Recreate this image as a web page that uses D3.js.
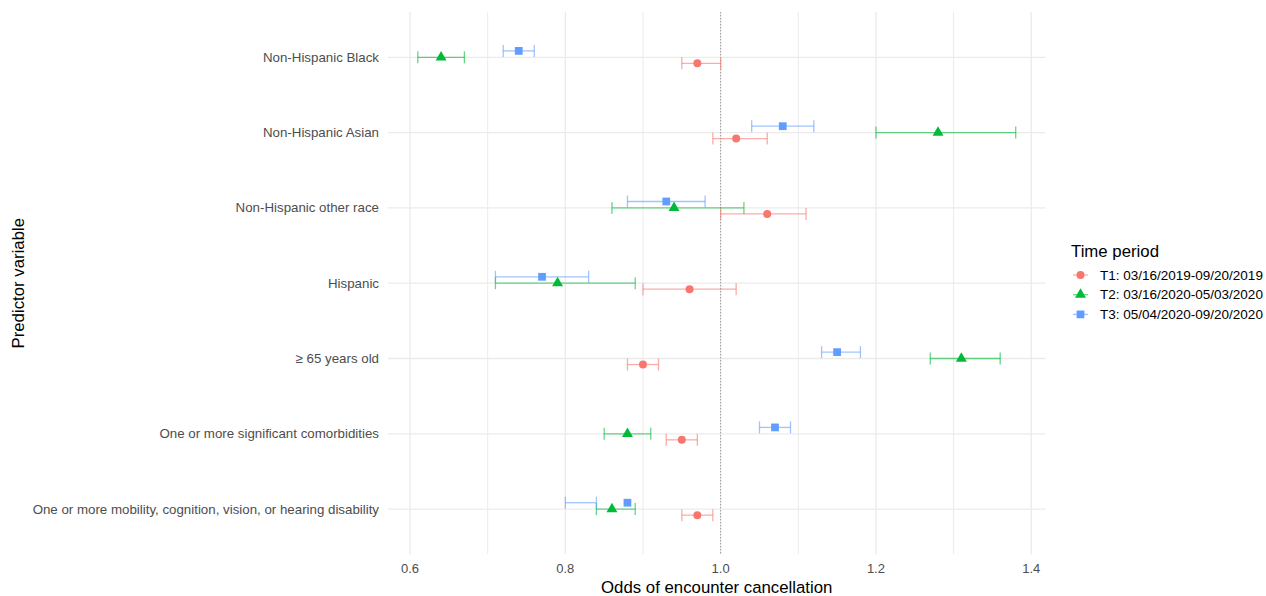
<!DOCTYPE html>
<html><head><meta charset="utf-8">
<script src="https://cdn.jsdelivr.net/npm/d3@7"></script>
<style>body{margin:0;background:#fff;font-family:"Liberation Sans",Arial,sans-serif;}</style>
</head><body><svg id="c" width="1266" height="596"></svg>
<script>
const categories = ["Non-Hispanic Black","Non-Hispanic Asian","Non-Hispanic other race","Hispanic","\u2265 65 years old","One or more significant comorbidities","One or more mobility, cognition, vision, or hearing disability"];
const periods = ["T1: 03/16/2019-09/20/2019","T2: 03/16/2020-05/03/2020","T3: 05/04/2020-09/20/2020"];
const t1Est = [0.97,1.02,1.06,0.96,0.90,0.95,0.97];
const t1Lo  = [0.95,0.99,1.00,0.90,0.88,0.93,0.95];
const t1Hi  = [1.00,1.06,1.11,1.02,0.92,0.97,0.99];
const t2Est = [0.64,1.28,0.94,0.79,1.31,0.88,0.86];
const t2Lo  = [0.61,1.20,0.86,0.71,1.27,0.85,0.84];
const t2Hi  = [0.67,1.38,1.03,0.89,1.36,0.91,0.89];
const t3Est = [0.74,1.08,0.93,0.77,1.15,1.07,0.88];
const t3Lo  = [0.72,1.04,0.88,0.71,1.13,1.05,0.80];
const t3Hi  = [0.76,1.12,0.98,0.83,1.18,1.09,0.84];
const xTicks = [0.6,0.8,1.0,1.2,1.4];
const xMinor = [0.7,0.9,1.1,1.3];
const colors = ["#F8766D","#00BA38","#619CFF"];
const shapes = [d3.symbolCircle,d3.symbolTriangle,d3.symbolSquare];
const symSize = [50,52,60];
const dodge = [0.08,0,-0.085];

const series = [[t1Est,t1Lo,t1Hi],[t2Est,t2Lo,t2Hi],[t3Est,t3Lo,t3Hi]];
const svg = d3.select("#c");
const x = d3.scaleLinear().domain([0.5715,1.4185]).range([387.9,1045.6]);
const y = d3.scaleLinear().domain([-0.6,6.6]).range([12.1,554.3]);
const grid = "#EBEBEB";
const g = svg.append("g");
g.selectAll(".mn").data(xMinor).enter().append("line").attr("x1",d=>x(d)).attr("x2",d=>x(d)).attr("y1",y(-0.6)).attr("y2",y(6.6)).attr("stroke",grid).attr("stroke-width",1);
g.selectAll(".mj").data(xTicks).enter().append("line").attr("x1",d=>x(d)).attr("x2",d=>x(d)).attr("y1",y(-0.6)).attr("y2",y(6.6)).attr("stroke",grid).attr("stroke-width",1.3);
g.selectAll(".hy").data(categories).enter().append("line").attr("x1",x.range()[0]).attr("x2",x.range()[1]).attr("y1",(d,i)=>y(i)).attr("y2",(d,i)=>y(i)).attr("stroke",grid).attr("stroke-width",1.3);
g.append("line").attr("x1",x(1)).attr("x2",x(1)).attr("y1",y(-0.6)).attr("y2",y(6.6)).attr("stroke","#777").attr("stroke-width",0.8).attr("stroke-dasharray","1.2,1.8");
series.forEach((s,k)=>{
  const gg = svg.append("g");
  categories.forEach((c,i)=>{
    const yy = y(i+dodge[k]);
    const eb = gg.append("g").attr("stroke",colors[k]).attr("stroke-opacity",0.6).attr("stroke-width",1.3);
    eb.append("line").attr("x1",x(s[1][i])).attr("x2",x(s[2][i])).attr("y1",yy).attr("y2",yy);
    eb.append("line").attr("x1",x(s[1][i])).attr("x2",x(s[1][i])).attr("y1",yy-6).attr("y2",yy+6);
    eb.append("line").attr("x1",x(s[2][i])).attr("x2",x(s[2][i])).attr("y1",yy-6).attr("y2",yy+6);
  });
  categories.forEach((c,i)=>{
    const yy = y(i+dodge[k]);
    gg.append("path").attr("d",d3.symbol().type(shapes[k]).size(symSize[k])()).attr("transform",`translate(${x(s[0][i])},${yy})`).attr("fill",colors[k]);
  });
});
svg.append("g").selectAll("text").data(xTicks).enter().append("text").attr("x",d=>x(d)).attr("y",573).attr("text-anchor","middle").attr("font-size",13).attr("fill","#4D4D4D").text(d=>d.toFixed(1));
svg.append("g").selectAll("text").data(categories).enter().append("text").attr("x",379).attr("y",(d,i)=>y(i)+4.6).attr("text-anchor","end").attr("font-size",13.3).attr("fill","#4D4D4D").text(d=>d);
svg.append("text").attr("x",(x.range()[0]+x.range()[1])/2).attr("y",593).attr("text-anchor","middle").attr("font-size",16.8).attr("fill","#000").text("Odds of encounter cancellation");
svg.append("text").attr("transform",`translate(24,${(y(-0.6)+y(6.6))/2}) rotate(-90)`).attr("text-anchor","middle").attr("font-size",16.8).attr("fill","#000").text("Predictor variable");
const lg = svg.append("g");
lg.append("text").attr("x",1071).attr("y",257).attr("font-size",16.8).attr("fill","#000").text("Time period");
periods.forEach((p,k)=>{
  const yy = 275 + k*19.7;
  lg.append("line").attr("x1",1073).attr("x2",1088).attr("y1",yy).attr("y2",yy).attr("stroke",colors[k]).attr("stroke-opacity",0.6).attr("stroke-width",1.3);
  lg.append("path").attr("d",d3.symbol().type(shapes[k]).size(symSize[k])()).attr("transform",`translate(1080.5,${yy})`).attr("fill",colors[k]);
  lg.append("text").attr("x",1100).attr("y",yy+4.7).attr("font-size",13.5).attr("fill","#000").text(p);
});
</script></body></html>
